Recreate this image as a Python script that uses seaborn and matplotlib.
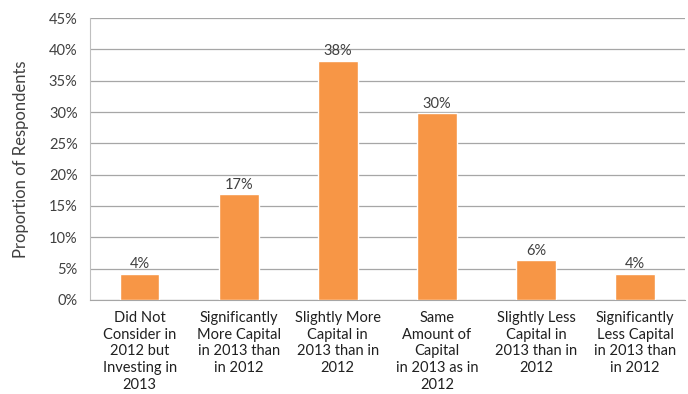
import matplotlib
matplotlib.use("Agg")
import matplotlib.pyplot as plt
import seaborn as sns
import pandas as pd
from matplotlib.ticker import PercentFormatter, FixedLocator

categories = [
    "Did Not\nConsider in\n2012 but\nInvesting in\n2013",
    "Significantly\nMore Capital\nin 2013 than\nin 2012",
    "Slightly More\nCapital in\n2013 than in\n2012",
    "Same\nAmount of\nCapital\nin 2013 as in\n2012",
    "Slightly Less\nCapital in\n2013 than in\n2012",
    "Significantly\nLess Capital\nin 2013 than\nin 2012",
]
values = [4.2, 16.9, 38.2, 29.8, 6.3, 4.2]
labels = ["4%", "17%", "38%", "30%", "6%", "4%"]
y_ticks = [0, 5, 10, 15, 20, 25, 30, 35, 40, 45]

df = pd.DataFrame({"cat": categories, "val": values})

sns.set_style("white")
plt.rcParams['font.family'] = ['Lato', 'DejaVu Sans']

fig = plt.figure(figsize=(6.88, 3.94), dpi=100)
ax = fig.add_axes([0.131, 0.239, 0.864, 0.715])

sns.barplot(data=df, x="cat", y="val", color="#F79646", width=0.4,
            saturation=1, ax=ax, zorder=3)

for i, (v, lab) in enumerate(zip(values, labels)):
    ax.text(i, v + 0.4, lab, ha="center", va="bottom", fontsize=10.5, color="#404040")

ax.set_ylim(0, 45)
ax.set_xlim(-0.5, len(categories) - 0.5)
ax.yaxis.set_major_locator(FixedLocator(y_ticks))
ax.yaxis.set_major_formatter(PercentFormatter(decimals=0))
ax.grid(axis="y", color="#a6a6a6", linewidth=0.9, zorder=0)
ax.set_axisbelow(True)

for s in ["top", "right"]:
    ax.spines[s].set_visible(False)
ax.spines["left"].set_color("#bfbfbf")
ax.spines["bottom"].set_color("#a6a6a6")

ax.set_xlabel("")
ax.set_ylabel("Proportion of Respondents", fontsize=12, color="#404040", labelpad=14)

ax.set_xticks(range(len(categories)))
ax.set_xticklabels(categories, fontsize=10.5, color="#202020", linespacing=1.25)
ax.tick_params(axis="x", length=0, pad=8)
ax.set_xticks([i - 0.5 for i in range(len(categories) + 1)], minor=True)
ax.tick_params(axis="x", which="minor", length=5, color="#a6a6a6", direction="out")
ax.tick_params(axis="y", length=5, color="#bfbfbf", labelsize=10.5, labelcolor="#404040", pad=4)

fig.savefig("out.png", dpi=100)
